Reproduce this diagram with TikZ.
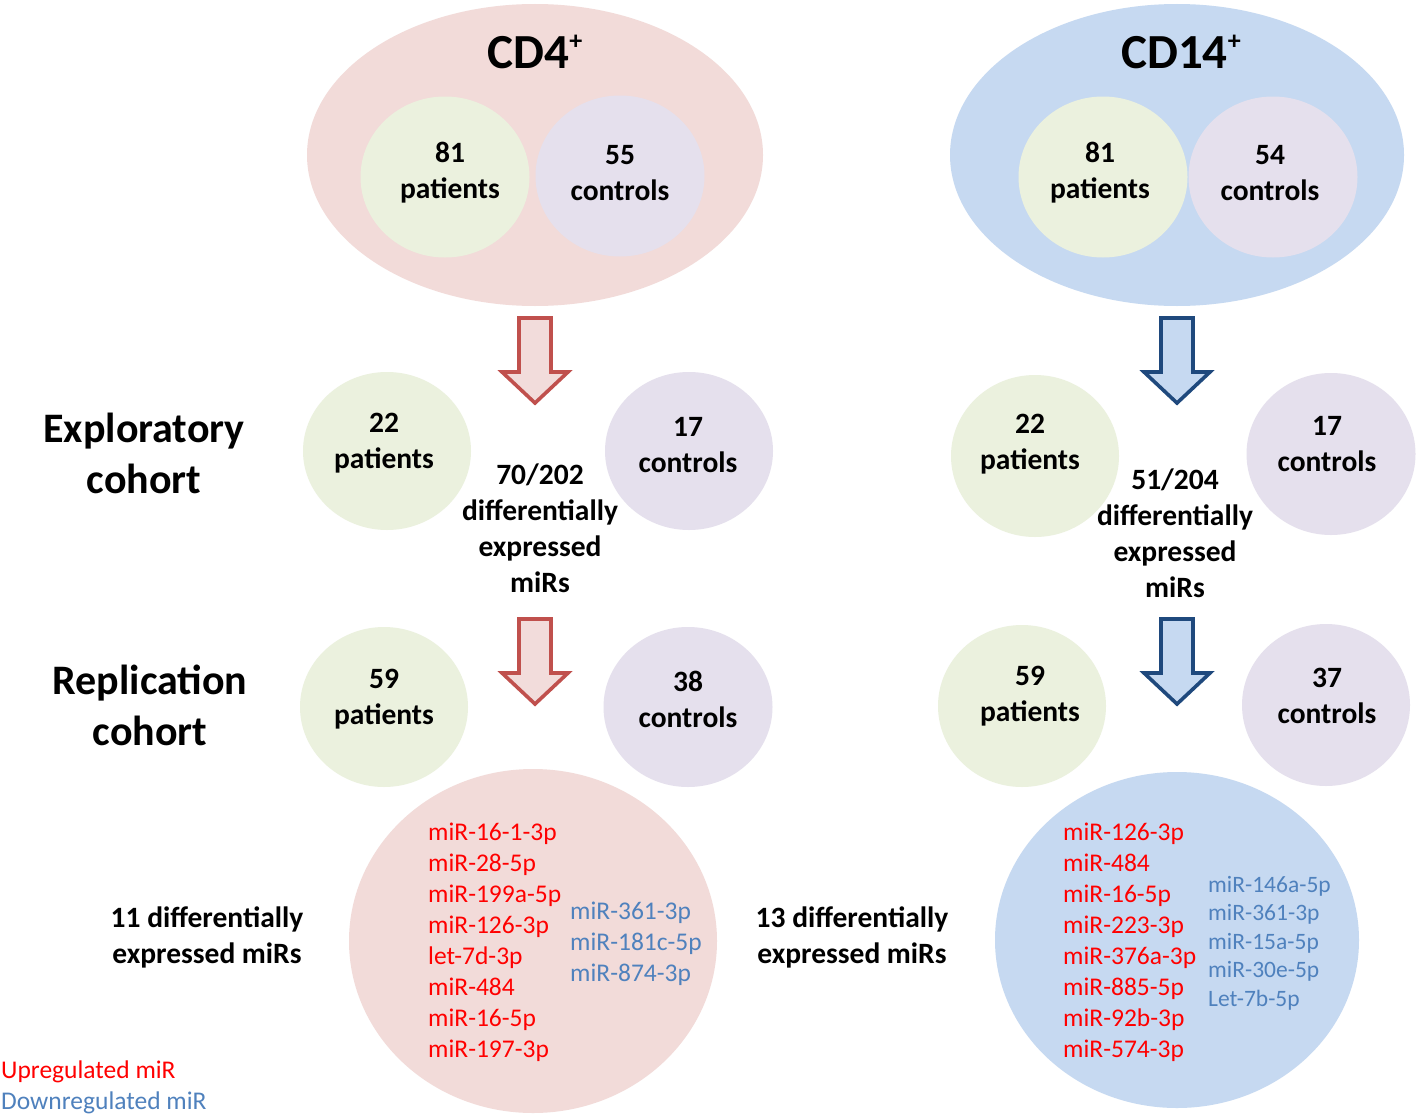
\documentclass[tikz,border=0pt]{standalone}
\usepackage{fontspec}
\setmainfont{Carlito}
\usetikzlibrary{shapes.geometric}
\definecolor{pinkbg}{RGB}{242,219,217}
\definecolor{bluebg}{RGB}{198,217,241}
\definecolor{greenc}{RGB}{235,241,222}
\definecolor{lavc}{RGB}{229,224,237}
\definecolor{upred}{RGB}{255,0,0}
\definecolor{downblue}{RGB}{79,129,189}
\definecolor{arrred}{RGB}{192,80,77}
\definecolor{arrredfill}{RGB}{242,220,219}
\definecolor{arrblue}{RGB}{31,73,125}
\definecolor{arrbluefill}{RGB}{198,217,241}
\newcommand{\plussup}{{\fontsize{26}{26}\selectfont\raisebox{0.72em}{+}}}
\begin{document}
\begin{tikzpicture}[x=1pt,y=-1pt,
  blob/.style={ellipse,draw=none,inner sep=0pt},
  pat/.style={blob,fill=greenc,minimum width=169pt,minimum height=161pt},
  con/.style={blob,fill=lavc,minimum width=169pt,minimum height=161pt},
  lbl/.style={font=\fontsize{29.5}{36}\selectfont\bfseries,align=center,inner sep=0pt},
  big/.style={font=\fontsize{49}{56}\selectfont\bfseries,inner sep=0pt},
  cohort/.style={font=\fontsize{42}{51}\selectfont\bfseries,align=center,inner sep=0pt},
  uplist/.style={font=\fontsize{25.5}{31}\selectfont,text=upred,align=left,anchor=west,inner sep=0pt},
  downlist/.style={font=\fontsize{25.5}{31}\selectfont,text=downblue,align=left,anchor=west,inner sep=0pt},
  downlistsmall/.style={font=\fontsize{23.5}{28.5}\selectfont,text=downblue,align=left,anchor=west,inner sep=0pt},
  legend/.style={font=\fontsize{25.5}{31}\selectfont,align=left,anchor=west,inner sep=0pt},
  pics/downarrow/.style 2 args={code={
    \draw[draw=#1,fill=#2,line width=3.6pt,line join=miter]
      (-16,0) -- (16,0) -- (16,54) -- (33,54) -- (0,85) -- (-33,54) -- (-16,54) -- cycle;}}
]
\useasboundingbox (0,0) rectangle (1418,1116);
\fill[white] (0,0) rectangle (1418,1116);

% ---------- top ellipses ----------
\node[blob,fill=pinkbg,minimum width=456pt,minimum height=302pt] (cd4) at (535,155) {};
\node[pat] (cd4p) at (445,177) {};
\node[con] (cd4c) at (620,176) {};
\node[big] (cd4t) at (535,52) {CD4\plussup};
\node[lbl] (cd4pt) at (450,173) {81\\patients};
\node[lbl] (cd4ct) at (620,173) {55\\controls};

\node[blob,fill=bluebg,minimum width=454pt,minimum height=302pt] (cd14) at (1177,155) {};
\node[pat] (cd14p) at (1103,177) {};
\node[con] (cd14c) at (1273,177) {};
\node[big] (cd14t) at (1181,52) {CD14\plussup};
\node[lbl] (cd14pt) at (1100,173) {81\\patients};
\node[lbl] (cd14ct) at (1270,173) {54\\controls};

% ---------- arrows ----------
\pic at (535,318) {downarrow={arrred}{arrredfill}};
\pic at (535,619) {downarrow={arrred}{arrredfill}};
\pic at (1177,318) {downarrow={arrblue}{arrbluefill}};
\pic at (1177,619) {downarrow={arrblue}{arrbluefill}};

% ---------- exploratory cohort ----------
\node[cohort] (exp) at (144,453) {Exploratory\\cohort};
\node[pat,minimum width=168pt,minimum height=158pt] (e4p) at (387,451) {};
\node[con,minimum width=168pt,minimum height=158pt] (e4c) at (689,451) {};
\node[lbl] (e4pt) at (384,443) {22\\patients};
\node[lbl] (e4ct) at (688,445) {17\\controls};
\node[lbl] (e4m) at (540,528) {70/202\\differentially\\expressed\\miRs};

\node[pat,minimum width=168pt,minimum height=162pt] (e14p) at (1035,456) {};
\node[con,minimum width=169pt,minimum height=162pt] (e14c) at (1331,454) {};
\node[lbl] (e14pt) at (1030,444) {22\\patients};
\node[lbl] (e14ct) at (1327,444) {17\\controls};
\node[lbl] (e14m) at (1175,533) {51/204\\differentially\\expressed\\miRs};

% ---------- replication cohort ----------
\node[cohort] (rep) at (150,705) {Replication\\cohort};
\node[pat,minimum width=168pt,minimum height=160pt] (r4p) at (384,707) {};
\node[con,minimum width=169pt,minimum height=160pt] (r4c) at (688,707) {};
\node[lbl] (r4pt) at (384,699) {59\\patients};
\node[lbl] (r4ct) at (688,699) {38\\controls};

\node[pat,minimum width=168pt,minimum height=162pt] (r14p) at (1022,706) {};
\node[con,minimum width=168pt,minimum height=162pt] (r14c) at (1326,705) {};
\node[lbl] (r14pt) at (1030,696) {59\\patients};
\node[lbl] (r14ct) at (1327,696) {37\\controls};

% ---------- results ----------
\node[blob,fill=pinkbg,minimum width=368pt,minimum height=344pt] (res4) at (533,941) {};
\node[blob,fill=bluebg,minimum width=364pt,minimum height=336pt] (res14) at (1177,940) {};

\node[lbl] (n11) at (207,937) {11 differentially\\expressed miRs};
\node[lbl] (n13) at (852,937) {13 differentially\\expressed miRs};

\node[uplist] (up4) at (428,942) {miR-16-1-3p\\miR-28-5p\\miR-199a-5p\\miR-126-3p\\let-7d-3p\\miR-484\\miR-16-5p\\miR-197-3p};
\node[downlist] (dn4) at (570,944) {miR-361-3p\\miR-181c-5p\\miR-874-3p};

\node[uplist] (up14) at (1063,942) {miR-126-3p\\miR-484\\miR-16-5p\\miR-223-3p\\miR-376a-3p\\miR-885-5p\\miR-92b-3p\\miR-574-3p};
\node[downlistsmall] (dn14) at (1208,943) {miR-146a-5p\\miR-361-3p\\miR-15a-5p\\miR-30e-5p\\Let-7b-5p};

% ---------- legend ----------
\node[legend,text=upred] (lgup) at (1,1072) {Upregulated miR};
\node[legend,text=downblue] (lgdn) at (1,1103) {Downregulated miR};
\end{tikzpicture}
\end{document}
